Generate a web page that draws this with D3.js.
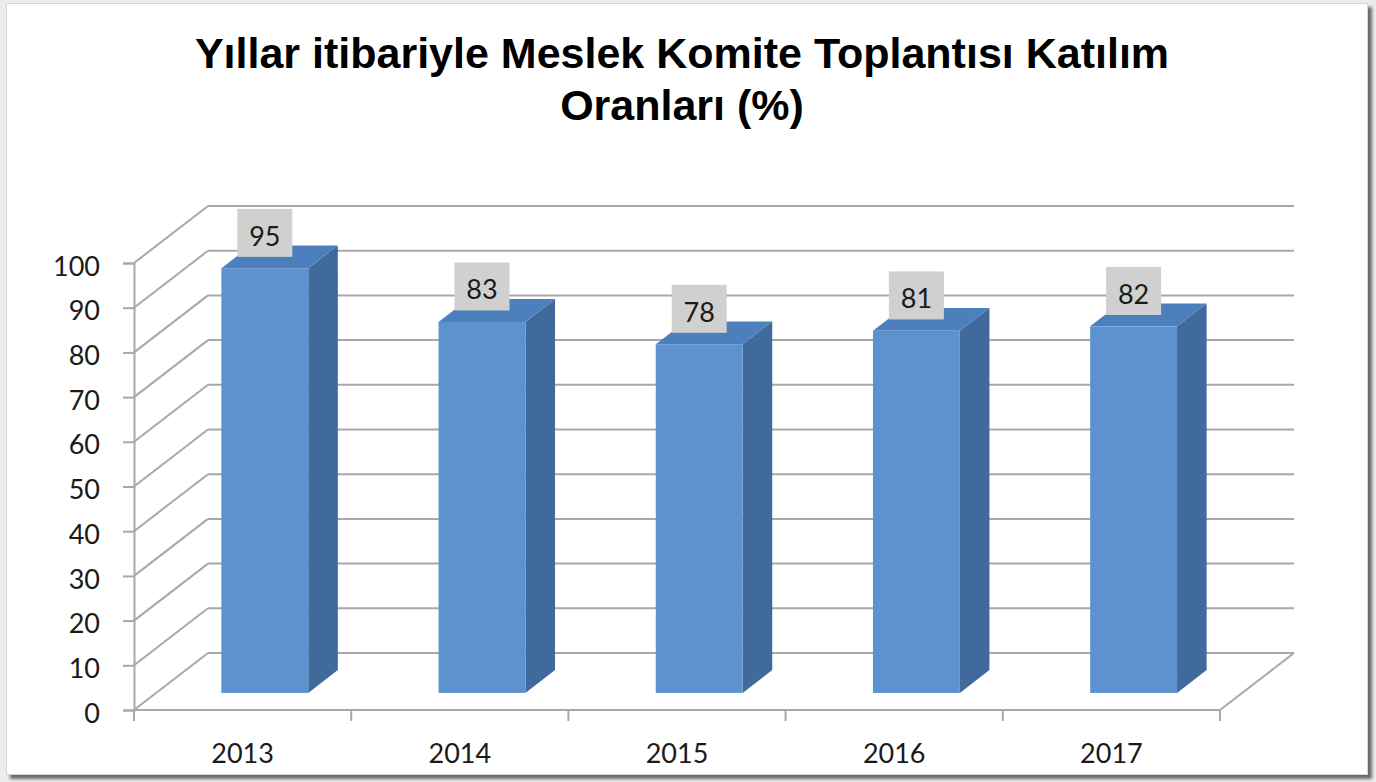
<!DOCTYPE html>
<html>
<head>
<meta charset="utf-8">
<script src="https://cdn.jsdelivr.net/npm/d3@7"></script>
<style>
    html, body { margin: 0; padding: 0; background: #ececec; }
    .card {
        position: absolute; left: 6px; top: 3px; width: 1360px; height: 770px;
        background: #fff; border: 1px solid #d6d6d6;
        box-shadow: 4px 4px 3px rgba(0,0,0,0.55);
    }
    svg { position: absolute; left: 0; top: 0; }
</style>
</head>
<body>
<div class="card"></div>
<div class="chart"></div>
<script>
var years = ["2013", "2014", "2015", "2016", "2017"];
var rates = [95, 83, 78, 81, 82];
var yTicks = [0, 10, 20, 30, 40, 50, 60, 70, 80, 90, 100];
var titleLines = ["Yıllar itibariyle Meslek Komite Toplantısı Katılım", "Oranları (%)"];

var width = 1376, height = 782;
var plotLeft = 134, plotRight = 1220, plotBottom = 710, plotTop = 263;
var depthX = 74, depthY = -57;  // full floor depth
var barFront = 0.3, barBack = 0.7;
var gridColor = "#a8a8a8";
var tickFont = "Lato, 'Liberation Sans', sans-serif";

var svg = d3.select(".chart")
            .append("svg")
            .attr("width", width)
            .attr("height", height);

// title
svg.selectAll(".title")
    .data(titleLines)
    .enter().append("text")
    .attr("class", "title")
    .attr("x", 682)
    .attr("y", function(d, i) { return 68 + i * 52; })
    .attr("text-anchor", "middle")
    .style("font-family", "'Liberation Sans', Arial, sans-serif")
    .style("font-weight", "bold")
    .style("font-size", "43px")
    .style("fill", "#000")
    .text(function(d) { return d; });

var y = d3.scaleLinear().domain([0, 100]).range([plotBottom, plotTop]);
var x = d3.scaleBand().domain(years).range([plotLeft, plotRight]).paddingInner(0).paddingOuter(0);
var barW = x.bandwidth() * 0.4;

// back wall + side wall gridlines
var grid = svg.append("g");
grid.selectAll(".back")
    .data(yTicks)
    .enter().append("line")
    .attr("x1", plotLeft + depthX)
    .attr("x2", plotRight + depthX)
    .attr("y1", function(d) { return y(d) + depthY; })
    .attr("y2", function(d) { return y(d) + depthY; });
grid.selectAll(".side")
    .data(yTicks)
    .enter().append("line")
    .attr("x1", plotLeft)
    .attr("x2", plotLeft + depthX)
    .attr("y1", function(d) { return y(d); })
    .attr("y2", function(d) { return y(d) + depthY; });
// floor right edge
grid.append("line")
    .attr("x1", plotRight).attr("y1", y(0))
    .attr("x2", plotRight + depthX).attr("y2", y(0) + depthY);
grid.selectAll("line")
    .attr("stroke", gridColor)
    .attr("stroke-width", 2);

// bars
var ox1 = depthX * barFront, oy1 = depthY * barFront;
var ox2 = depthX * barBack, oy2 = depthY * barBack;
var bars = svg.append("g").selectAll("g")
    .data(years.map(function(d, i) { return { year: d, value: rates[i] }; }))
    .enter().append("g");

var pts = function(arr) {
    return arr.map(function(p) { return p.join(","); }).join(" ");
};

bars.append("polygon") // side
    .attr("fill", "#3f6a9b")
    .attr("points", function(d) {
        var xr = x(d.year) + x.bandwidth() / 2 + barW / 2;
        return pts([[xr + ox1, y(d.value) + oy1], [xr + ox2, y(d.value) + oy2],
                    [xr + ox2, y(0) + oy2], [xr + ox1, y(0) + oy1]]);
    });
bars.append("polygon") // top
    .attr("fill", "#4c80bd")
    .attr("points", function(d) {
        var xl = x(d.year) + x.bandwidth() / 2 - barW / 2;
        var xr = xl + barW;
        var yt = y(d.value);
        return pts([[xl + ox1, yt + oy1], [xr + ox1, yt + oy1],
                    [xr + ox2, yt + oy2], [xl + ox2, yt + oy2]]);
    });
bars.append("rect") // front
    .attr("fill", "#5b92cf")
    .attr("x", function(d) { return x(d.year) + x.bandwidth() / 2 - barW / 2 + ox1; })
    .attr("y", function(d) { return y(d.value) + oy1; })
    .attr("width", barW)
    .attr("height", function(d) { return y(0) - y(d.value); });

// value labels
var boxW = 55, boxH = 48;
bars.append("rect")
    .attr("fill", "#d0d0d0")
    .attr("x", function(d) { return x(d.year) + x.bandwidth() / 2 + ox1 - boxW / 2; })
    .attr("y", function(d) { return y(d.value) + depthY * 0.5 - boxH; })
    .attr("width", boxW)
    .attr("height", boxH);
bars.append("text")
    .attr("x", function(d) { return x(d.year) + x.bandwidth() / 2 + ox1; })
    .attr("y", function(d) { return y(d.value) + depthY * 0.5 - 11; })
    .attr("text-anchor", "middle")
    .style("font-family", tickFont)
    .style("font-size", "27px")
    .style("fill", "#1a1a1a")
    .text(function(d) { return d.value; });

// front axes
var yAxis = svg.append("g")
    .attr("transform", "translate(" + plotLeft + ",0)")
    .call(d3.axisLeft(y).tickValues(yTicks).tickSize(11).tickPadding(23));
var xAxis = svg.append("g")
    .attr("transform", "translate(0," + plotBottom + ")")
    .call(d3.axisBottom(x).tickSize(0).tickPadding(34));
xAxis.select(".domain").remove();

var bounds = d3.range(years.length + 1).map(function(i) { return plotLeft + i * x.bandwidth(); });
svg.append("g").selectAll("line")
    .data(bounds)
    .enter().append("line")
    .attr("x1", function(d) { return d; })
    .attr("x2", function(d) { return d; })
    .attr("y1", plotBottom)
    .attr("y2", plotBottom + 11)
    .attr("stroke", gridColor)
    .attr("stroke-width", 2);
svg.append("line")
    .attr("x1", plotLeft).attr("x2", plotRight)
    .attr("y1", plotBottom).attr("y2", plotBottom)
    .attr("stroke", gridColor)
    .attr("stroke-width", 2);

[yAxis, xAxis].forEach(function(ax) {
    ax.selectAll("path, line").attr("stroke", gridColor).attr("stroke-width", 2);
    ax.selectAll("text")
        .style("font-family", tickFont)
        .style("font-size", "27px")
        .style("fill", "#1a1a1a");
});
yAxis.selectAll("text").attr("dy", "0.45em");
</script>
</body>
</html>
